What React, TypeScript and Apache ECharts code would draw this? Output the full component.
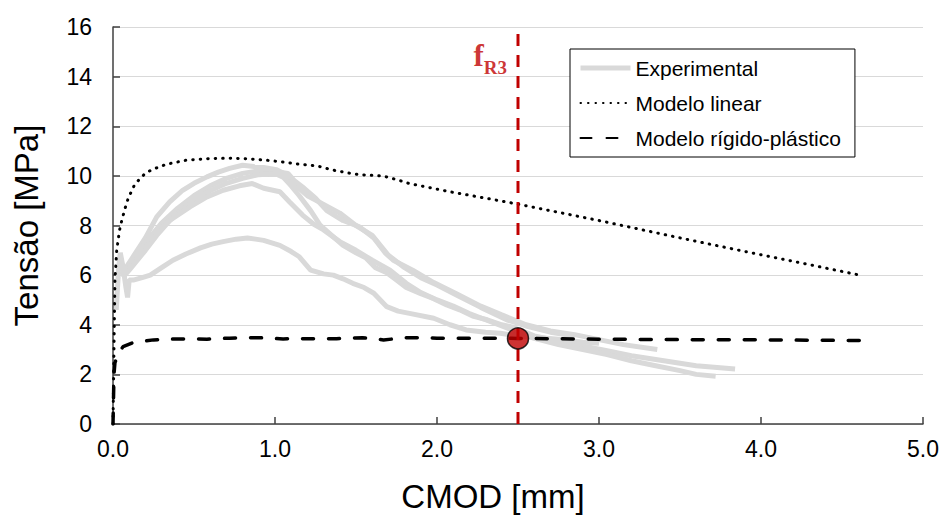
import React, { useEffect, useRef } from "react";
import * as echarts from "echarts";

// Experimental curves [CMOD mm, stress MPa]
const expA: number[][] = [
  [0.05, 6.0], [0.08, 6.3], [0.12, 6.7], [0.2, 7.5], [0.27, 8.35], [0.35, 8.95], [0.43, 9.42], [0.5, 9.7],
  [0.58, 9.96], [0.65, 10.15], [0.72, 10.3], [0.8, 10.43], [0.87, 10.38], [0.93, 10.34], [1.01, 10.25],
  [1.07, 10.05], [1.13, 9.6], [1.2, 9.2], [1.3, 8.85], [1.4, 8.5], [1.5, 8.0], [1.6, 7.6], [1.7, 6.8],
  [1.8, 6.3], [1.9, 5.9], [2.0, 5.6], [2.12, 5.2], [2.27, 4.7], [2.43, 4.2], [2.55, 3.95], [2.7, 3.7],
  [2.85, 3.55],
];
const expB: number[][] = [
  [0.06, 6.1], [0.1, 6.4], [0.2, 7.3], [0.3, 8.1], [0.4, 8.7], [0.5, 9.2], [0.6, 9.6], [0.7, 9.9],
  [0.8, 10.1], [0.9, 10.2], [0.97, 10.25], [1.03, 10.15], [1.08, 10.1], [1.12, 9.8], [1.18, 9.5],
  [1.25, 9.1], [1.32, 8.6], [1.42, 8.2], [1.52, 7.95], [1.61, 7.5], [1.68, 6.9], [1.73, 6.6],
  [1.85, 6.2], [1.98, 5.7], [2.12, 5.25], [2.27, 4.75], [2.4, 4.4], [2.55, 4.0], [2.7, 3.75],
  [2.85, 3.6], [3.0, 3.4], [3.15, 3.2], [3.36, 3.0],
];
const expC: number[][] = [
  [0.06, 6.0], [0.1, 6.3], [0.2, 7.1], [0.3, 7.9], [0.4, 8.5], [0.5, 9.0], [0.6, 9.4], [0.7, 9.7],
  [0.8, 9.9], [0.9, 10.05], [1.0, 10.1], [1.05, 9.95], [1.1, 9.6], [1.15, 9.2], [1.22, 8.6],
  [1.28, 8.0], [1.35, 7.6], [1.42, 7.2], [1.5, 6.9], [1.56, 6.7], [1.62, 6.3], [1.69, 6.1],
  [1.75, 5.8], [1.81, 5.5], [1.9, 5.25], [1.98, 5.05], [2.06, 4.8], [2.14, 4.6], [2.22, 4.35],
  [2.31, 4.2], [2.4, 4.0], [2.47, 3.9], [2.6, 3.55], [2.75, 3.35], [2.9, 3.15], [3.05, 2.95],
  [3.2, 2.75], [3.4, 2.55], [3.6, 2.35], [3.84, 2.22],
];
const expD: number[][] = [
  [0.06, 5.9], [0.1, 6.2], [0.2, 7.0], [0.27, 7.6], [0.35, 8.2], [0.475, 8.75], [0.58, 9.15],
  [0.68, 9.42], [0.78, 9.6], [0.86, 9.69], [0.93, 9.5], [1.03, 9.36], [1.09, 8.95], [1.17, 8.42],
  [1.24, 8.05], [1.3, 7.82], [1.4, 7.35], [1.5, 7.0], [1.6, 6.6], [1.71, 6.2], [1.81, 5.67],
  [1.9, 5.3], [2.0, 5.0], [2.1, 4.75], [2.2, 4.45], [2.3, 4.2], [2.4, 3.95], [2.5, 3.7], [2.6, 3.45],
  [2.75, 3.2], [2.9, 3.0], [3.05, 2.8], [3.2, 2.55], [3.35, 2.35], [3.5, 2.15], [3.6, 2.0], [3.72, 1.92],
];
const expE: number[][] = [
  [0.02, 4.6], [0.035, 6.3], [0.045, 6.9], [0.06, 6.4], [0.08, 5.5], [0.09, 5.1], [0.1, 5.8],
  [0.125, 5.8], [0.18, 5.9], [0.23, 6.0], [0.3, 6.3], [0.37, 6.6], [0.45, 6.85], [0.54, 7.1],
  [0.61, 7.25], [0.68, 7.35], [0.76, 7.45], [0.83, 7.5], [0.88, 7.45], [0.93, 7.4], [1.03, 7.2],
  [1.1, 6.95], [1.15, 6.74], [1.22, 6.2], [1.3, 6.05], [1.36, 6.0], [1.42, 5.85], [1.48, 5.67],
  [1.55, 5.5], [1.61, 5.27], [1.69, 4.73], [1.76, 4.55], [1.83, 4.46], [1.98, 4.26], [2.08, 4.0],
  [2.18, 3.79], [2.3, 3.7], [2.39, 3.66], [2.5, 3.55], [2.6, 3.5], [2.75, 3.42], [2.9, 3.3], [3.0, 3.25],
];
const experimental = [expA, expB, expC, expD, expE];

const modeloLinear: number[][] = [
  [0, 0], [0.004, 2], [0.008, 4], [0.012, 5.8], [0.023, 7.0], [0.04, 7.8], [0.054, 8.2], [0.075, 8.7],
  [0.094, 9.1], [0.13, 9.6], [0.167, 9.9], [0.2, 10.1], [0.24, 10.25], [0.33, 10.47], [0.45, 10.63],
  [0.6, 10.7], [0.74, 10.71], [0.85, 10.68], [0.95, 10.63], [1.05, 10.56], [1.15, 10.47], [1.26, 10.4],
  [1.36, 10.23], [1.45, 10.12], [1.52, 10.05], [1.6, 10.02], [1.67, 9.99], [1.75, 9.85], [1.83, 9.69],
  [2.08, 9.36], [2.31, 9.09], [2.5, 8.86], [3.0, 8.2], [3.5, 7.5], [3.91, 6.94], [4.3, 6.42], [4.61, 6.0],
];

const modeloRigido: number[][] = [
  [0, 0], [0.003, 1.0], [0.006, 2.0], [0.012, 2.47], [0.03, 2.8], [0.062, 3.12], [0.124, 3.28],
  [0.25, 3.39], [0.39, 3.43], [0.58, 3.42], [0.72, 3.46], [0.89, 3.48], [1.05, 3.43], [1.22, 3.44],
  [1.38, 3.44], [1.54, 3.48], [1.67, 3.39], [1.81, 3.48], [2.0, 3.46], [2.5, 3.45], [3.0, 3.42],
  [3.5, 3.4], [4.0, 3.39], [4.68, 3.36],
];

const fR3X = 2.5;
const fR3Value = 3.45;
const fR3LabelY = 14.86;
const yRange = [0, 16];

const FONT = "'Liberation Sans', Arial, sans-serif";
const SERIF = "'Liberation Serif', 'Times New Roman', serif";

export default function App() {
  const ref = useRef<HTMLDivElement>(null);
  useEffect(() => {
    if (!ref.current) return;
    const chart = echarts.init(ref.current, undefined, { renderer: "svg" });
    const series: any[] = experimental.map((d) => ({
      name: "Experimental",
      type: "line",
      data: d,
      showSymbol: false,
      symbol: "none",
      lineStyle: { color: "#D9D9D9", width: 5 },
      itemStyle: { color: "#D9D9D9" },
      z: 2,
    }));
    series.push({
      name: "Modelo linear",
      type: "line",
      data: modeloLinear,
      symbol: "none",
      lineStyle: { color: "#000", width: 3, type: [0.5, 7], cap: "round" },
      itemStyle: { color: "#000" },
      z: 3,
    });
    series.push({
      name: "Modelo rígido-plástico",
      type: "line",
      data: modeloRigido,
      symbol: "none",
      lineStyle: { color: "#000", width: 3.5, type: [11, 15], cap: "round" },
      itemStyle: { color: "#000" },
      z: 3,
    });
    series.push({
      name: "fR3line",
      type: "line",
      data: [[fR3X, yRange[0]], [fR3X, yRange[1]]],
      symbol: "none",
      lineStyle: { color: "#C00000", width: 3, type: [12, 9] },
      z: 4,
    });
    series.push({
      name: "fR3label",
      type: "scatter",
      data: [[fR3X, fR3LabelY]],
      symbolSize: 0,
      silent: true,
      label: {
        show: true,
        position: "left",
        distance: 11,
        formatter: "{f|f}{s|R3}",
        rich: {
          f: { fontFamily: SERIF, fontWeight: "bold", fontSize: 31, color: "#C00000", verticalAlign: "bottom" },
          s: { fontFamily: SERIF, fontWeight: "bold", fontSize: 19, color: "#C00000", verticalAlign: "bottom", padding: [0, 0, -6, 0] },
        },
      },
      z: 5,
    });
    series.push({
      name: "fR3point",
      type: "scatter",
      data: [[fR3X, fR3Value]],
      symbol: "circle",
      symbolSize: 21,
      itemStyle: { color: "#C00000", borderColor: "#000", borderWidth: 1.5 },
      z: 6,
    });

    chart.setOption({
      animation: false,
      textStyle: { fontFamily: FONT },
      grid: { left: 113, right: 22, top: 27, bottom: 106, containLabel: false },
      legend: {
        data: [
          { name: "Experimental", lineStyle: { width: 5, color: "#D9D9D9" } },
          { name: "Modelo linear" },
          { name: "Modelo rígido-plástico" },
        ],
        orient: "vertical",
        left: 570,
        top: 49,
        padding: [7, 14, 7, 8],
        itemGap: 11,
        itemWidth: 50,
        itemHeight: 14,
        itemStyle: { opacity: 0 },
        borderColor: "#000",
        borderWidth: 1,
        backgroundColor: "#fff",
        textStyle: { fontFamily: FONT, fontSize: 21, color: "#000", lineHeight: 24 },
      },
      xAxis: {
        type: "value",
        min: 0,
        max: 5,
        interval: 1,
        name: "CMOD [mm]",
        nameLocation: "middle",
        nameGap: 56,
        nameTextStyle: { fontFamily: FONT, fontSize: 33, color: "#000", padding: [0, 50, 0, 0] },
        axisLine: { lineStyle: { color: "#404040", width: 1.5 } },
        axisTick: { inside: true, length: 7, lineStyle: { color: "#404040", width: 1.5 } },
        axisLabel: { fontFamily: FONT, fontSize: 23, color: "#000", margin: 13, formatter: (v: number) => v.toFixed(1) },
        splitLine: { show: false },
      },
      yAxis: {
        type: "value",
        min: yRange[0],
        max: yRange[1],
        interval: 2,
        name: "Tensão [MPa]",
        nameLocation: "middle",
        nameGap: 70,
        nameTextStyle: { fontFamily: FONT, fontSize: 33, color: "#000" },
        axisLine: { show: true, lineStyle: { color: "#404040", width: 1.5 } },
        axisTick: { show: true, inside: true, length: 7, lineStyle: { color: "#404040", width: 1.5 } },
        axisLabel: { fontFamily: FONT, fontSize: 23, color: "#000", margin: 21 },
        splitLine: { show: true, lineStyle: { color: "#D9D9D9", width: 1 } },
      },
      series,
    });
    return () => chart.dispose();
  }, []);
  return (
    <div
      ref={ref}
      style={{ position: "absolute", left: 0, top: 0, width: 945, height: 530, background: "#fff" }}
    />
  );
}
